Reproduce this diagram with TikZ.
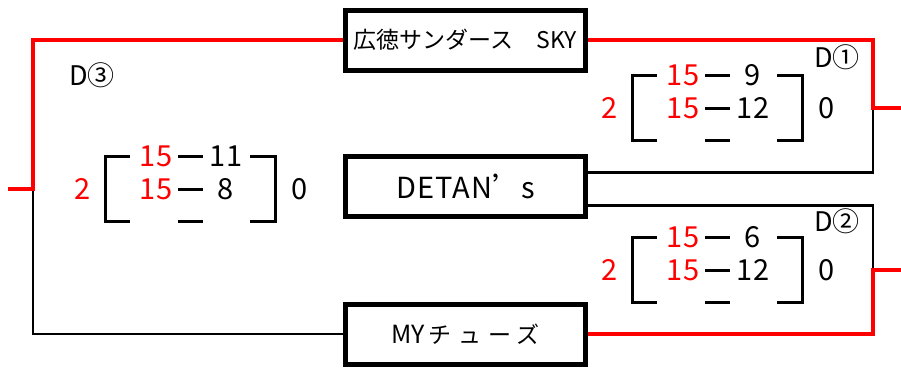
\documentclass[tikz,border=0pt]{standalone}
\usepackage{fontspec}
\setmainfont{Noto Sans CJK JP}
\newfontfamily\widefont[LetterSpace=30]{Noto Sans CJK JP}
\newfontfamily\tallfont[LetterSpace=4]{Noto Sans CJK JP}
\usetikzlibrary{calc}
\definecolor{winred}{RGB}{255,0,0}

\tikzset{
  team/.style={draw, line width=5pt, minimum width=240pt, minimum height=60pt, inner sep=0pt, font=\fontsize{23}{26}\selectfont},
  win/.style={winred, line width=4.5pt},
  lose/.style={black, line width=2.5pt},
  pt/.style={font=\fontsize{29}{32}\selectfont, inner sep=0pt},
  lbl/.style={font=\fontsize{27}{30}\selectfont, inner sep=0pt},
  bar/.style={line width=3pt},
}

% score block: name, origin, opponent set 1, opponent set 2
\newcommand{\scoreblock}[4]{%
  \coordinate (#1) at #2;
  \node[pt, winred] (#1w) at ($(#1)+(-22,0)$) {2};
  \node[pt] (#1l) at ($(#1)+(195,0)$) {0};
  \node[pt, winred] (#1a) at ($(#1)+(51,-33)$) {15};
  \node[pt, winred] (#1b) at ($(#1)+(51,0)$) {15};
  \node[pt] (#1c) at ($(#1)+(121,-33)$) {#3};
  \node[pt] (#1d) at ($(#1)+(121,0)$) {#4};
  \draw[bar] ($(#1)+(25,-33)$) -| ($(#1)+(0,32)$) -- ++(25,0);
  \draw[bar] ($(#1)+(145,-33)$) -| ($(#1)+(170,32)$) -- ++(-25,0);
  \foreach \r in {-33,0,32} {\draw[bar] ($(#1)+(73,\r)$) -- ++(25,0);}
}

\begin{document}
\begin{tikzpicture}[x=1pt, y=-1pt]
\useasboundingbox (0,0) rectangle (901,367);

\node[team] (sky) at (465.5,40) {広徳サンダース　SKY};
\node[team] (detan) at (465.5,186.5) {\tallfont\fontsize{29}{32}\selectfont DETAN{\addfontfeatures{RawFeature=+fwid}’}s};
\node[team] (my) at (465.5,334) {{\fontsize{25}{28}\selectfont MY}\,{\widefont チューズ}};

\coordinate (j1) at (873,108);
\coordinate (j2) at (873,270);
\coordinate (j3) at (33,189);
\coordinate (e1) at (901,108);
\coordinate (e2) at (901,270);
\coordinate (e3) at (8,189);

% losers
\draw[lose] (j1) |- ($(detan.east)+(0,-14)$);
\draw[lose] ($(detan.east)+(0,19)$) -| (j2);
\draw[lose] (j3) |- (my.west);
% winners
\draw[win] (sky.east) -| (j1) -- (e1);
\draw[win] (e2) -- (j2) |- (my.east);
\draw[win] (sky.west) -| (j3) -- (e3);

\node[lbl] (d1) at (837,57) {D①};
\node[lbl] (d2) at (837,221) {D②};
\node[lbl] (d3) at (92,75) {D③};

\scoreblock{s1}{(632,108)}{9}{12}
\scoreblock{s2}{(632,270)}{6}{12}
\scoreblock{s3}{(105,189)}{11}{8}

\end{tikzpicture}
\end{document}
